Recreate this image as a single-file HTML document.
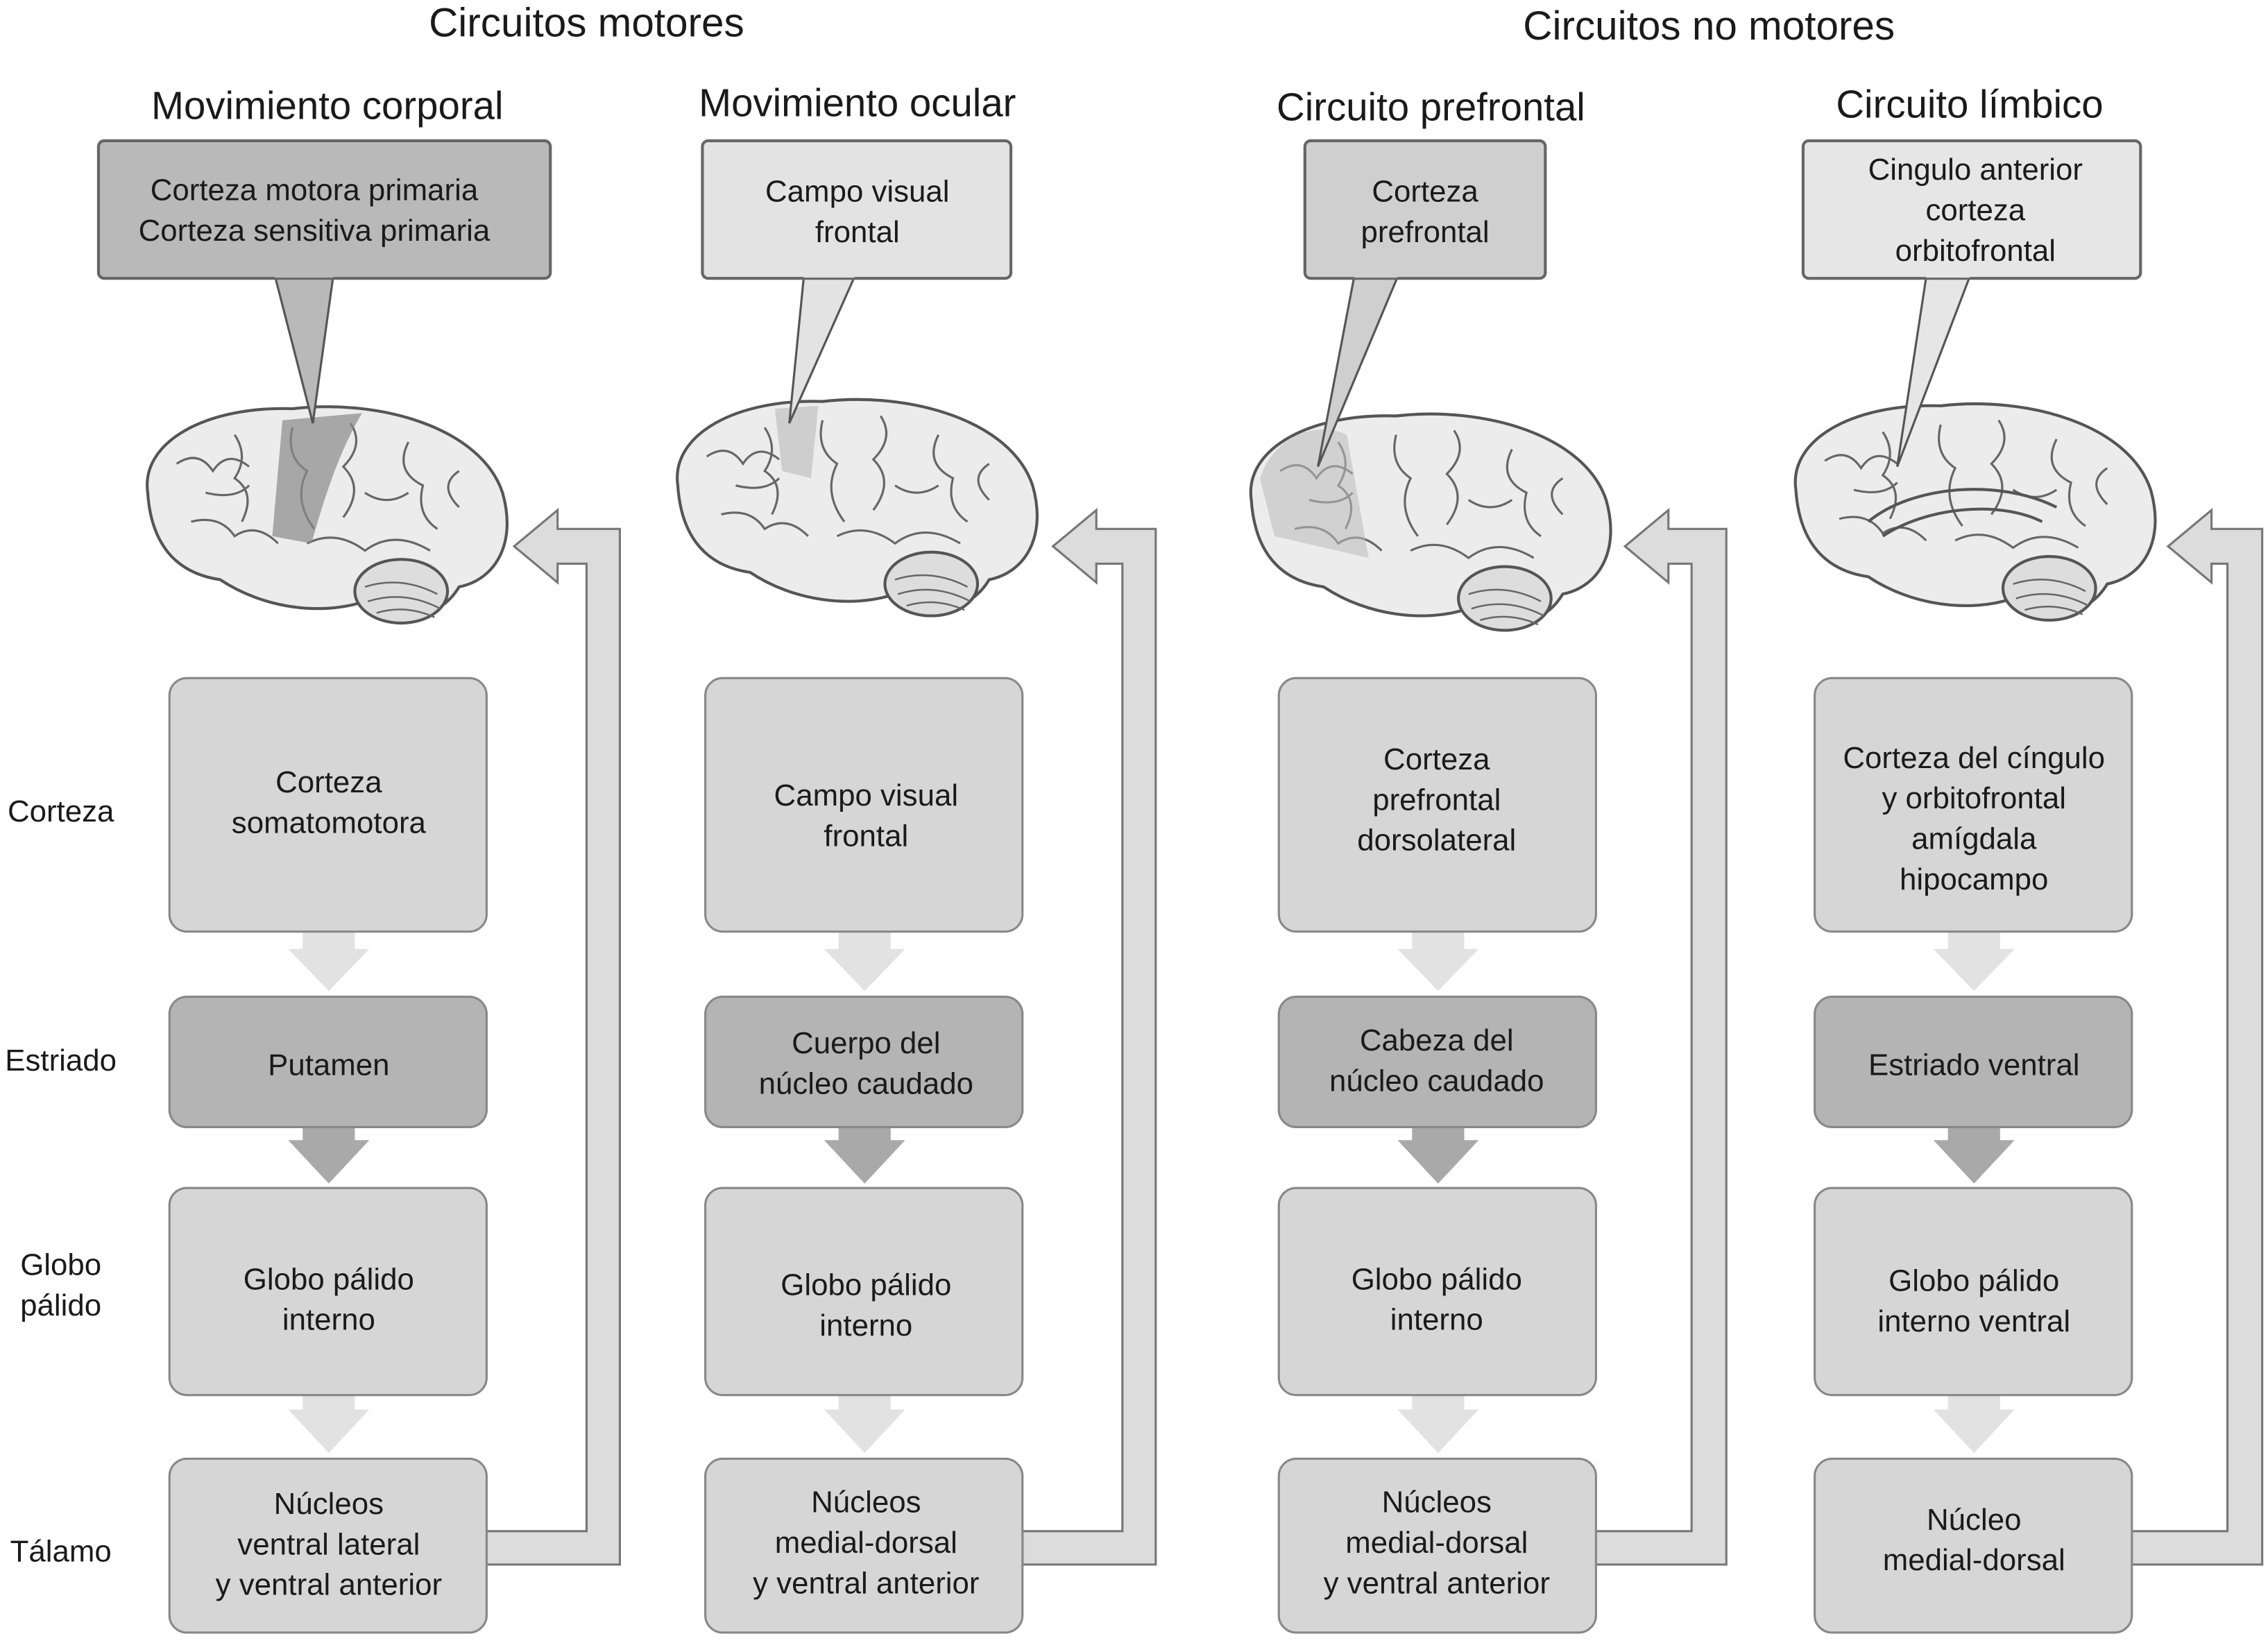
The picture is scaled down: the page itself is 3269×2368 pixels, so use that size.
<!DOCTYPE html>
<html><head><meta charset="utf-8"><style>
html,body{margin:0;padding:0;background:#fff;}
svg{display:block;}
text{font-family:"Liberation Sans",sans-serif;fill:#1a1a1a;}
</style></head><body>
<svg width="3269" height="2368" viewBox="0 0 1566 1134" xmlns="http://www.w3.org/2000/svg">
<defs>
<g id="brain">
<path d="M0,60 C-5,25 40,0 100,2 C160,-5 230,15 245,60 C255,95 240,120 215,125 C200,150 170,150 150,135 C120,145 80,140 50,120 C15,115 2,90 0,60 Z" fill="#ececec" stroke="#555" stroke-width="2"/>
<path d="M20,40 q15,-10 25,5 q10,-15 25,-3 M60,20 q10,15 0,30 q15,10 5,30 M100,15 q-5,20 10,30 q-10,20 5,40 M140,12 q10,15 -5,30 q15,15 0,35 M180,25 q-10,20 10,30 q-5,20 10,30 M215,45 q-15,10 0,25 M30,80 q20,-5 30,10 q15,-10 30,5 M110,95 q20,-10 40,5 q20,-15 45,0 M40,60 q20,5 30,-5 M150,60 q15,10 30,0" fill="none" stroke="#666" stroke-width="1.5"/>
<ellipse cx="175" cy="128" rx="32" ry="22" fill="#ddd" stroke="#555" stroke-width="2"/>
<path d="M150,125 q25,-8 50,5 M152,135 q25,-8 50,5 M158,143 q20,-6 40,3" fill="none" stroke="#666" stroke-width="1.2"/>
</g>
<g id="col1arr">
<path d="M-18,643 L18,643 L18,655 L28,655 L0,684 L-28,655 L-18,655 Z" fill="#e2e2e2"/>
<path d="M-18,778 L18,778 L18,787 L28,787 L0,817 L-28,787 L-18,787 Z" fill="#a9a9a9"/>
<path d="M-18,963 L18,963 L18,973 L28,973 L0,1003 L-28,973 L-18,973 Z" fill="#e2e2e2"/>
</g>
</defs>

<text x="405" y="25" font-size="28" text-anchor="middle">Circuitos motores</text>
<text x="1180" y="27" font-size="28" text-anchor="middle">Circuitos no motores</text>
<g font-size="27" text-anchor="middle">
<text x="226" y="82">Movimiento corporal</text>
<text x="592" y="80">Movimiento ocular</text>
<text x="988" y="83">Circuito prefrontal</text>
<text x="1360" y="81">Circuito límbico</text>
</g>

<use href="#brain" transform="translate(102,280)"/>
<path d="M195,290 L250,285 C235,310 225,340 215,375 L188,370 Z" fill="#8a8a8a" opacity="0.7"/>
<use href="#brain" transform="translate(468,275)"/>
<path d="M535,282 L565,280 L560,330 L540,325 Z" fill="#bbb" opacity="0.6"/>
<use href="#brain" transform="translate(864,285)"/>
<path d="M870,330 C880,300 910,290 930,300 L945,385 L880,370 Z" fill="#bbb" opacity="0.55"/>
<use href="#brain" transform="translate(1240,278)"/>
<path d="M1290,360 C1320,335 1380,330 1420,350 M1300,370 C1330,350 1380,345 1410,360" fill="none" stroke="#555" stroke-width="2"/>

<path d="M190,191 L230,191 L216,292 Z" fill="#b9b9b9" stroke="#555" stroke-width="1.5"/>
<rect x="68" y="97" width="312" height="95" rx="4" fill="#b9b9b9" stroke="#666" stroke-width="2"/>
<path d="M190,190 L230,190" stroke="#b9b9b9" stroke-width="3"/>
<path d="M555,191 L590,191 L545,292 Z" fill="#e3e3e3" stroke="#555" stroke-width="1.5"/>
<rect x="485" y="97" width="213" height="95" rx="4" fill="#e3e3e3" stroke="#666" stroke-width="2"/>
<path d="M555,190 L590,190" stroke="#e3e3e3" stroke-width="3"/>
<path d="M935,191 L965,191 L910,322 Z" fill="#cfcfcf" stroke="#555" stroke-width="1.5"/>
<rect x="901" y="97" width="166" height="95" rx="4" fill="#cfcfcf" stroke="#666" stroke-width="2"/>
<path d="M935,190 L965,190" stroke="#cfcfcf" stroke-width="3"/>
<path d="M1330,191 L1360,191 L1310,322 Z" fill="#e6e6e6" stroke="#555" stroke-width="1.5"/>
<rect x="1245" y="97" width="233" height="95" rx="4" fill="#e6e6e6" stroke="#666" stroke-width="2"/>
<path d="M1330,190 L1360,190" stroke="#e6e6e6" stroke-width="3"/>

<g font-size="21" text-anchor="middle">
<text x="217" y="138">Corteza motora primaria</text>
<text x="217" y="166">Corteza sensitiva primaria</text>
<text x="592" y="139">Campo visual</text>
<text x="592" y="167">frontal</text>
<text x="984" y="139">Corteza</text>
<text x="984" y="167">prefrontal</text>
<text x="1364" y="124">Cingulo anterior</text>
<text x="1364" y="152">corteza</text>
<text x="1364" y="180">orbitofrontal</text>
</g>

<g fill="#dcdcdc" stroke="#777" stroke-width="1.5">
<path d="M336,1057 L405,1057 L405,389 L385,389 L385,402 L355,377 L385,352 L385,365 L428,365 L428,1080 L336,1080 Z"/>
<path d="M706,1057 L775,1057 L775,389 L757,389 L757,402 L727,377 L757,352 L757,365 L798,365 L798,1080 L706,1080 Z"/>
<path d="M1102,1057 L1168,1057 L1168,389 L1152,389 L1152,402 L1122,377 L1152,352 L1152,365 L1192,365 L1192,1080 L1102,1080 Z"/>
<path d="M1472,1057 L1538,1057 L1538,389 L1527,389 L1527,402 L1497,377 L1527,352 L1527,365 L1562,365 L1562,1080 L1472,1080 Z"/>
</g>

<use href="#col1arr" transform="translate(227,0)"/>
<use href="#col1arr" transform="translate(597,0)"/>
<use href="#col1arr" transform="translate(993,0)"/>
<use href="#col1arr" transform="translate(1363,0)"/>

<g stroke="#888" stroke-width="1.5">
<rect x="117" y="468" width="219" height="175" rx="12" fill="#d6d6d6"/>
<rect x="117" y="688" width="219" height="90" rx="12" fill="#b4b4b4"/>
<rect x="117" y="820" width="219" height="143" rx="12" fill="#d6d6d6"/>
<rect x="117" y="1007" width="219" height="120" rx="12" fill="#d6d6d6"/>
<rect x="487" y="468" width="219" height="175" rx="12" fill="#d6d6d6"/>
<rect x="487" y="688" width="219" height="90" rx="12" fill="#b4b4b4"/>
<rect x="487" y="820" width="219" height="143" rx="12" fill="#d6d6d6"/>
<rect x="487" y="1007" width="219" height="120" rx="12" fill="#d6d6d6"/>
<rect x="883" y="468" width="219" height="175" rx="12" fill="#d6d6d6"/>
<rect x="883" y="688" width="219" height="90" rx="12" fill="#b4b4b4"/>
<rect x="883" y="820" width="219" height="143" rx="12" fill="#d6d6d6"/>
<rect x="883" y="1007" width="219" height="120" rx="12" fill="#d6d6d6"/>
<rect x="1253" y="468" width="219" height="175" rx="12" fill="#d6d6d6"/>
<rect x="1253" y="688" width="219" height="90" rx="12" fill="#b4b4b4"/>
<rect x="1253" y="820" width="219" height="143" rx="12" fill="#d6d6d6"/>
<rect x="1253" y="1007" width="219" height="120" rx="12" fill="#d6d6d6"/>
</g>

<g font-size="21" text-anchor="middle">
<text x="227" y="547">Corteza</text><text x="227" y="575">somatomotora</text>
<text x="227" y="742">Putamen</text>
<text x="227" y="890">Globo pálido</text><text x="227" y="918">interno</text>
<text x="227" y="1045">Núcleos</text><text x="227" y="1073">ventral lateral</text><text x="227" y="1101">y ventral anterior</text>

<text x="598" y="556">Campo visual</text><text x="598" y="584">frontal</text>
<text x="598" y="727">Cuerpo del</text><text x="598" y="755">núcleo caudado</text>
<text x="598" y="894">Globo pálido</text><text x="598" y="922">interno</text>
<text x="598" y="1044">Núcleos</text><text x="598" y="1072">medial-dorsal</text><text x="598" y="1100">y ventral anterior</text>

<text x="992" y="531">Corteza</text><text x="992" y="559">prefrontal</text><text x="992" y="587">dorsolateral</text>
<text x="992" y="725">Cabeza del</text><text x="992" y="753">núcleo caudado</text>
<text x="992" y="890">Globo pálido</text><text x="992" y="918">interno</text>
<text x="992" y="1044">Núcleos</text><text x="992" y="1072">medial-dorsal</text><text x="992" y="1100">y ventral anterior</text>

<text x="1363" y="530">Corteza del cíngulo</text><text x="1363" y="558">y orbitofrontal</text><text x="1363" y="586">amígdala</text><text x="1363" y="614">hipocampo</text>
<text x="1363" y="742">Estriado ventral</text>
<text x="1363" y="891">Globo pálido</text><text x="1363" y="919">interno ventral</text>
<text x="1363" y="1056">Núcleo</text><text x="1363" y="1084">medial-dorsal</text>
</g>

<g font-size="21" text-anchor="middle">
<text x="42" y="567">Corteza</text>
<text x="42" y="739">Estriado</text>
<text x="42" y="880">Globo</text><text x="42" y="908">pálido</text>
<text x="42" y="1078">Tálamo</text>
</g>
</svg>
</body></html>
